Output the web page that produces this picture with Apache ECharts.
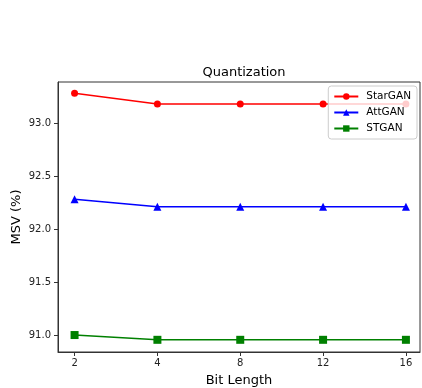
<!DOCTYPE html>
<html>
<head>
<meta charset="utf-8">
<script src="https://cdn.jsdelivr.net/npm/echarts@6/dist/echarts.min.js"></script>
<style>
  html, body { margin: 0; padding: 0; background: #fff; }
  #chart { width: 422px; height: 388px; }
</style>
</head>
<body>
<div id="chart"></div>
<script>
const bitLabels = ['2', '4', '8', '12', '16']
const starGAN = [93.28, 93.18, 93.18, 93.18, 93.18]
const attGAN = [92.28, 92.21, 92.21, 92.21, 92.21]
const stGAN = [91.0, 90.955, 90.955, 90.955, 90.955]
const yTicks = [91.0, 91.5, 92.0, 92.5, 93.0]

const font = 'DejaVu Sans'
const toPoints = (vals) => vals.map((v, i) => [i, v])

const chart = echarts.init(document.getElementById('chart'))

function line(name, data, color, symbol) {
  return {
    name,
    type: 'line',
    data: toPoints(data),
    symbol,
    symbolSize: symbol === 'circle' ? 7 : 8,
    showSymbol: true,
    lineStyle: { color, width: 1.5 },
    itemStyle: { color },
    animation: false,
  }
}

chart.setOption({
  animation: false,
  title: {
    text: 'Quantization',
    left: 239,
    textAlign: 'center',
    top: 61,
    textStyle: { fontFamily: font, fontSize: 13, fontWeight: 'normal', color: '#000' },
  },
  legend: {
    right: 5,
    top: 86,
    orient: 'vertical',
    itemGap: 5,
    itemWidth: 24,
    itemHeight: 8,
    padding: [5, 6, 5, 5],
    backgroundColor: 'rgba(255,255,255,0.8)',
    borderColor: '#ccc',
    borderWidth: 1,
    borderRadius: 3,
    textStyle: { fontFamily: font, fontSize: 10.5, color: '#000', padding: [0, 0, 0, 3] },
    data: ['StarGAN', 'AttGAN', 'STGAN'],
  },
  grid: { left: 58, right: 2, top: 82, bottom: 36, outerBoundsMode: 'none', containLabel: false },
  xAxis: {
    type: 'value',
    min: -0.2,
    max: 4.17,
    name: 'Bit Length',
    nameLocation: 'middle',
    nameGap: 22,
    nameTextStyle: { fontFamily: font, fontSize: 13, color: '#000' },
    axisLine: { show: true, onZero: false, lineStyle: { color: '#333', width: 1 } },
    axisTick: { show: true, customValues: [0, 1, 2, 3, 4], length: 4, lineStyle: { color: '#333' } },
    axisLabel: {
      customValues: [0, 1, 2, 3, 4],
      formatter: (v) => bitLabels[Math.round(v)],
      fontFamily: font, fontSize: 10, color: '#222', margin: 6,
    },
    splitLine: { show: false },
  },
  yAxis: {
    type: 'value',
    min: 90.84,
    max: 93.387,
    name: 'MSV (%)',
    nameLocation: 'middle',
    nameGap: 35,
    nameMoveOverlap: false,
    nameTextStyle: { fontFamily: font, fontSize: 13, color: '#000' },
    axisLine: { show: true, onZero: false, lineStyle: { color: '#333', width: 1 } },
    axisTick: { show: true, customValues: yTicks, length: 4, lineStyle: { color: '#333' } },
    axisLabel: {
      customValues: yTicks,
      formatter: (v) => v.toFixed(1),
      fontFamily: font, fontSize: 10, color: '#222', margin: 7,
    },
    splitLine: { show: false },
  },
  series: [
    line('StarGAN', starGAN, '#ff0000', 'circle'),
    line('AttGAN', attGAN, '#0000ff', 'triangle'),
    line('STGAN', stGAN, '#008000', 'rect'),
  ],
  graphic: [
    {
      type: 'rect',
      shape: { x: 58, y: 82, width: 362, height: 270 },
      style: { fill: 'none', stroke: '#333', lineWidth: 1 },
      silent: true,
      z: -1,
    },
  ],
})
</script>
</body>
</html>
